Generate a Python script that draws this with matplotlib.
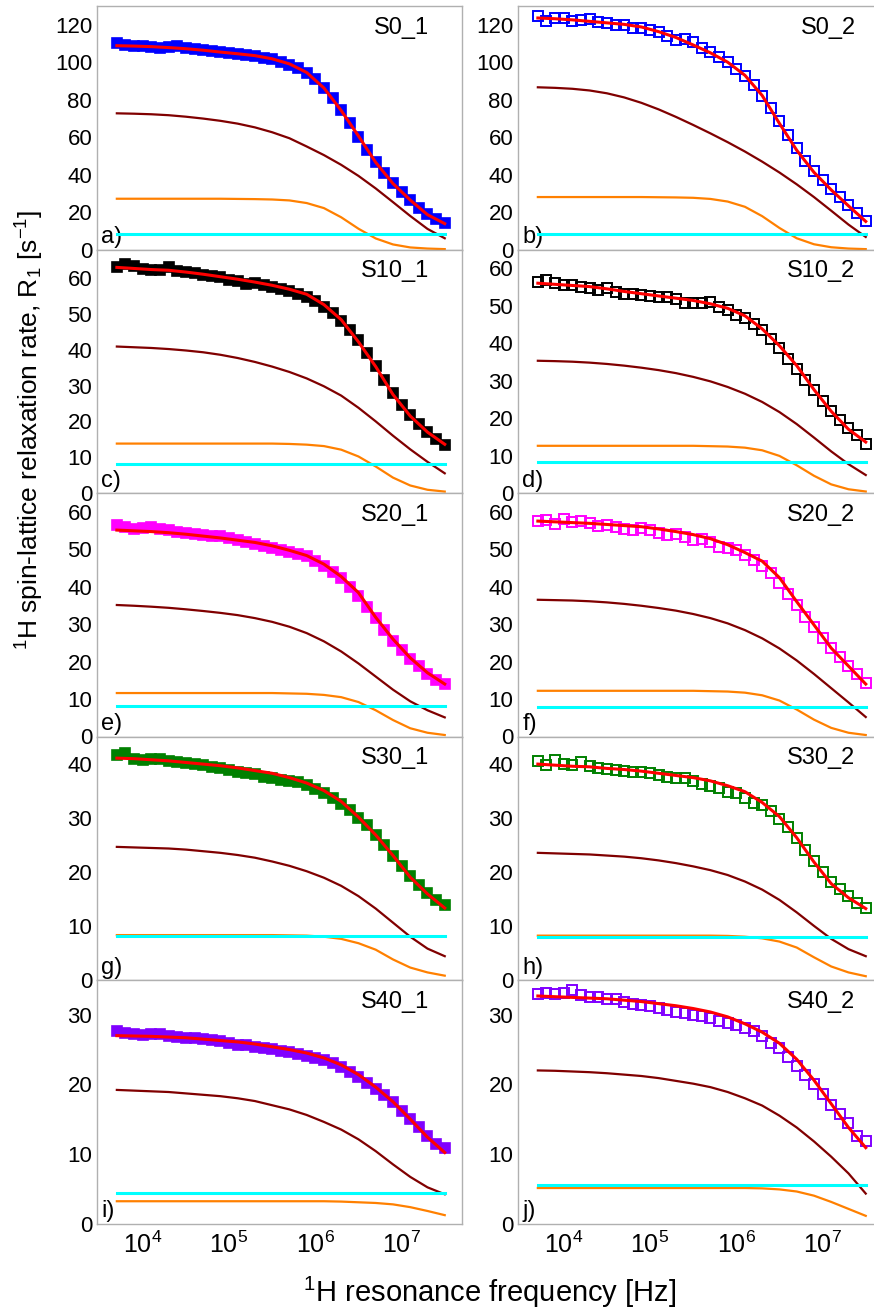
import numpy as np
import matplotlib
matplotlib.use('Agg')
import matplotlib.pyplot as plt

plt.rcParams['font.family'] = 'Liberation Sans'
plt.rcParams['mathtext.fontset'] = 'custom'
plt.rcParams['mathtext.rm'] = 'Liberation Sans'
plt.rcParams['mathtext.it'] = 'Liberation Sans:italic'

# log10 of the frequency [Hz]: measured points and fitted curves
log_f_data = [3.7, 3.8, 3.9, 4.0, 4.1, 4.2, 4.3, 4.4, 4.5, 4.6, 4.7, 4.8, 4.9,
              5.0, 5.1, 5.2, 5.3, 5.4, 5.5, 5.6, 5.7, 5.8, 5.9, 6.0, 6.1, 6.2,
              6.3, 6.4, 6.5, 6.6, 6.7, 6.8, 6.9, 7.0, 7.1, 7.2, 7.3, 7.4, 7.5]
log_f_fit = [3.7, 3.9, 4.1, 4.3, 4.5, 4.7, 4.9, 5.1, 5.3, 5.5, 5.7, 5.9, 6.1,
             6.3, 6.5, 6.7, 6.9, 7.1, 7.3, 7.5]

# S0_1
s0_1_data = [110.0, 109.4, 108.8, 108.6, 108.0, 107.8, 107.9, 108.8, 107.4, 106.9, 106.5, 106.2, 105.6,
             105.0, 104.4, 103.9, 103.2, 102.3, 101.5, 100.3, 98.5, 96.8, 94.0, 90.8, 86.0, 81.0,
             74.5, 67.8, 60.2, 53.2, 46.6, 40.6, 35.5, 30.8, 26.5, 22.3, 19.2, 16.4, 14.4]
s0_1_total = [108.8, 108.6, 108.3, 107.8, 107.2, 106.4, 105.4, 104.5, 103.5, 101.8, 99.1, 94.5, 86.2,
              74.2, 60.6, 46.5, 35.2, 26.4, 18.6, 13.8]
s0_1_slow = [72.7, 72.5, 72.2, 71.7, 70.9, 69.9, 68.7, 67.2, 65.2, 62.6, 59.4, 55.0, 50.4,
             45.2, 39.3, 32.6, 25.3, 17.9, 11.0, 6.0]
s0_1_fast = [27.1, 27.1, 27.1, 27.1, 27.1, 27.1, 27.1, 27.0, 26.9, 26.7, 26.2, 24.8, 22.1,
             17.2, 11.1, 5.9, 2.7, 1.1, 0.5, 0.2]
s0_1_const = 8.4

# S0_2
s0_2_data = [124.5, 122.0, 123.8, 123.4, 122.1, 122.6, 122.9, 121.3, 121.0, 120.0, 119.6, 118.5, 118.0,
             117.3, 116.2, 114.0, 112.0, 112.6, 110.8, 107.8, 105.4, 103.0, 100.3, 96.4, 92.8, 87.6,
             82.0, 75.8, 68.6, 61.0, 54.0, 47.4, 42.0, 37.0, 32.4, 28.0, 24.0, 19.6, 15.2]
s0_2_total = [123.6, 123.2, 122.6, 121.8, 121.0, 120.2, 118.8, 116.3, 113.2, 109.2, 105.0, 100.0, 93.0,
              82.2, 67.3, 53.0, 41.2, 31.8, 23.3, 15.0]
s0_2_slow = [86.6, 86.3, 85.8, 84.9, 83.4, 81.2, 78.3, 74.8, 70.8, 66.5, 62.0, 57.3, 52.3,
             46.9, 41.1, 34.8, 28.0, 20.7, 13.3, 6.7]
s0_2_fast = [28.0, 28.0, 28.0, 28.0, 28.0, 28.0, 28.0, 27.9, 27.8, 27.6, 27.0, 25.6, 22.8,
             17.8, 11.5, 6.0, 2.8, 1.2, 0.5, 0.2]
s0_2_const = 8.4

# S10_1
s10_1_data = [63.2, 64.0, 63.5, 62.6, 62.3, 62.4, 63.2, 62.0, 61.6, 61.3, 60.9, 60.5, 60.2,
              59.6, 59.2, 58.5, 58.6, 58.0, 57.5, 57.0, 56.4, 55.5, 54.6, 53.5, 52.0, 50.3,
              48.0, 45.6, 42.6, 39.0, 35.6, 31.6, 28.0, 24.6, 21.8, 19.3, 17.0, 15.0, 13.5]
s10_1_total = [63.0, 62.7, 62.4, 62.2, 61.7, 61.1, 60.4, 59.7, 58.9, 58.0, 56.9, 55.5, 52.6,
               48.4, 42.2, 35.3, 27.5, 21.5, 17.0, 13.6]
s10_1_slow = [40.9, 40.7, 40.5, 40.2, 39.8, 39.3, 38.6, 37.7, 36.6, 35.3, 33.8, 32.0, 29.8,
              27.2, 23.8, 20.0, 16.0, 12.2, 8.7, 5.5]
s10_1_fast = [13.8, 13.8, 13.8, 13.8, 13.8, 13.8, 13.8, 13.8, 13.8, 13.8, 13.7, 13.5, 13.1,
              12.1, 10.2, 7.4, 4.3, 2.1, 0.9, 0.4]
s10_1_const = 8.2

# S10_2
s10_2_data = [56.4, 56.8, 56.0, 55.6, 55.4, 55.0, 54.8, 54.2, 54.6, 53.6, 53.2, 53.0, 52.8,
              52.6, 52.4, 52.2, 51.8, 50.8, 50.6, 50.7, 50.9, 49.6, 48.8, 47.5, 46.8, 45.2,
              43.4, 41.0, 38.6, 35.8, 33.0, 30.2, 27.4, 24.6, 22.0, 19.6, 17.4, 15.4, 13.2]
s10_2_total = [56.0, 55.7, 55.4, 55.1, 54.5, 53.8, 53.2, 52.6, 52.0, 51.4, 50.5, 49.3, 47.3,
               43.8, 39.3, 34.0, 27.6, 21.8, 17.0, 13.6]
s10_2_slow = [35.3, 35.2, 35.05, 34.8, 34.45, 34.0, 33.45, 32.8, 32.0, 31.0, 29.8, 28.3, 26.5,
              24.3, 21.6, 18.4, 14.8, 11.1, 7.7, 4.8]
s10_2_fast = [12.6, 12.6, 12.6, 12.6, 12.6, 12.6, 12.6, 12.6, 12.6, 12.6, 12.5, 12.4, 12.1,
              11.4, 9.9, 7.4, 4.6, 2.3, 1.0, 0.4]
s10_2_const = 8.2

# S20_1
s20_1_data = [56.4, 55.8, 55.4, 55.6, 55.8, 55.5, 55.0, 54.5, 54.2, 54.0, 53.7, 53.5, 53.4,
              53.0, 52.4, 52.0, 51.4, 50.8, 50.4, 49.8, 49.3, 48.8, 48.2, 46.8, 45.5, 44.0,
              42.2, 40.0, 37.5, 34.6, 31.6, 28.4, 25.6, 23.0, 20.8, 18.8, 16.8, 15.2, 14.0]
s20_1_total = [55.1, 54.9, 54.7, 54.4, 54.0, 53.5, 53.0, 52.4, 51.8, 50.9, 49.7, 48.3, 46.0,
               42.7, 38.4, 31.8, 26.0, 21.0, 17.0, 14.0]
s20_1_slow = [35.1, 34.9, 34.65, 34.35, 33.95, 33.5, 33.0, 32.4, 31.6, 30.6, 29.3, 27.6, 25.4,
              22.7, 19.5, 16.0, 12.5, 9.4, 7.0, 5.1]
s20_1_fast = [11.6, 11.6, 11.6, 11.6, 11.6, 11.6, 11.6, 11.6, 11.6, 11.6, 11.5, 11.4, 11.1,
              10.5, 9.2, 7.0, 4.4, 2.2, 1.0, 0.4]
s20_1_const = 8.25

# S20_2
s20_2_data = [57.6, 57.7, 56.8, 58.0, 57.3, 57.4, 57.0, 56.2, 56.4, 55.8, 55.3, 55.0, 55.6,
              55.1, 54.3, 53.8, 54.0, 53.2, 52.4, 52.6, 51.8, 50.6, 50.4, 49.8, 48.4, 47.0,
              45.6, 43.6, 41.0, 38.0, 35.0, 32.0, 29.2, 26.4, 23.6, 21.2, 18.8, 16.6, 14.4]
s20_2_total = [57.5, 57.3, 57.1, 56.9, 56.6, 56.3, 56.0, 55.4, 54.7, 53.9, 52.8, 51.2, 49.1,
               46.8, 42.4, 36.0, 29.8, 23.6, 18.8, 14.0]
s20_2_slow = [36.5, 36.4, 36.3, 36.1, 35.8, 35.4, 34.9, 34.3, 33.6, 32.7, 31.6, 30.2, 28.4,
              26.2, 23.5, 20.3, 16.7, 12.9, 9.1, 5.2]
s20_2_fast = [12.2, 12.2, 12.2, 12.2, 12.2, 12.2, 12.2, 12.2, 12.2, 12.2, 12.1, 12.0, 11.7,
              11.0, 9.6, 7.2, 4.5, 2.3, 1.0, 0.4]
s20_2_const = 8.0

# S30_1
s30_1_data = [41.6, 42.0, 40.8, 40.7, 40.9, 40.8, 40.5, 40.3, 40.1, 39.9, 39.7, 39.4, 39.1,
              38.8, 38.5, 38.2, 38.0, 37.6, 37.4, 37.0, 36.8, 36.6, 36.0, 35.3, 34.5, 33.6,
              32.5, 31.4, 30.0, 28.6, 26.8, 25.0, 23.0, 21.0, 19.2, 17.6, 16.0, 14.8, 13.8]
s30_1_total = [41.0, 40.9, 40.7, 40.5, 40.2, 39.9, 39.6, 39.2, 38.7, 38.2, 37.4, 36.4, 35.0,
               33.0, 30.1, 26.8, 23.0, 19.0, 15.9, 13.3]
s30_1_slow = [24.6, 24.5, 24.4, 24.3, 24.1, 23.8, 23.5, 23.1, 22.6, 21.9, 21.1, 20.1, 18.9,
              17.4, 15.5, 13.2, 10.6, 8.0, 5.8, 4.4]
s30_1_fast = [8.3, 8.3, 8.3, 8.3, 8.3, 8.3, 8.3, 8.3, 8.3, 8.3, 8.25, 8.2, 8.0,
              7.6, 6.8, 5.6, 3.8, 2.3, 1.4, 0.8]
s30_1_const = 8.1

# S30_2
s30_2_data = [40.4, 39.8, 40.6, 40.0, 39.8, 40.2, 39.5, 39.2, 39.0, 38.8, 38.6, 38.4, 38.5,
              38.2, 37.8, 37.6, 37.4, 37.3, 36.8, 36.3, 35.8, 35.4, 34.8, 34.6, 33.7, 32.8,
              32.4, 31.2, 29.8, 28.2, 26.2, 24.0, 22.0, 20.0, 18.2, 16.8, 15.5, 14.2, 13.3]
s30_2_total = [39.9, 39.7, 39.5, 39.4, 39.1, 38.9, 38.6, 38.2, 37.8, 37.4, 36.8, 35.9, 34.8,
               32.8, 30.2, 26.3, 21.8, 17.8, 15.2, 13.2]
s30_2_slow = [23.5, 23.4, 23.3, 23.2, 23.0, 22.8, 22.5, 22.1, 21.6, 21.0, 20.3, 19.4, 18.2,
              16.7, 14.8, 12.5, 10.0, 7.6, 5.7, 4.4]
s30_2_fast = [8.2, 8.2, 8.2, 8.2, 8.2, 8.2, 8.2, 8.2, 8.2, 8.2, 8.2, 8.15, 8.0,
              7.7, 7.1, 6.0, 4.2, 2.5, 1.4, 0.7]
s30_2_const = 8.0

# S40_1
s40_1_data = [27.6, 27.4, 27.2, 27.1, 27.3, 27.2, 27.0, 26.8, 26.6, 26.6, 26.5, 26.4, 26.2,
              25.9, 25.7, 25.6, 25.4, 25.2, 25.1, 24.8, 24.6, 24.4, 24.1, 23.8, 23.5, 23.0,
              22.5, 21.8, 21.0, 20.2, 19.3, 18.4, 17.4, 16.2, 15.0, 13.8, 12.6, 11.4, 10.8]
s40_1_total = [27.0, 26.95, 26.9, 26.8, 26.7, 26.5, 26.3, 26.1, 25.8, 25.4, 25.0, 24.5, 23.8,
               22.8, 21.4, 19.6, 17.5, 15.0, 12.4, 10.2]
s40_1_slow = [19.2, 19.1, 19.0, 18.9, 18.7, 18.5, 18.3, 18.0, 17.6, 17.0, 16.4, 15.6, 14.6,
              13.5, 12.1, 10.4, 8.5, 6.7, 5.2, 4.2]
s40_1_fast = [3.2, 3.2, 3.2, 3.2, 3.2, 3.2, 3.2, 3.2, 3.2, 3.2, 3.2, 3.2, 3.2,
              3.15, 3.05, 2.95, 2.75, 2.35, 1.8, 1.2]
s40_1_const = 4.4

# S40_2
s40_2_data = [33.0, 33.1, 33.0, 33.2, 33.6, 32.8, 32.5, 32.6, 32.2, 32.3, 31.9, 31.6, 31.4,
              31.2, 31.0, 30.7, 30.4, 30.2, 30.0, 29.8, 29.5, 29.1, 28.8, 28.5, 28.1, 27.6,
              26.9, 26.0, 25.2, 24.0, 22.6, 21.4, 20.0, 18.6, 17.0, 15.8, 14.4, 12.6, 11.9]
s40_2_total = [32.7, 32.6, 32.5, 32.4, 32.3, 32.1, 31.9, 31.6, 31.3, 30.9, 30.4, 29.7, 28.7,
               27.5, 25.9, 23.6, 20.6, 17.2, 13.8, 10.9]
s40_2_slow = [22.0, 21.95, 21.85, 21.75, 21.6, 21.4, 21.2, 20.9, 20.5, 20.1, 19.6, 18.9, 18.0,
              16.95, 15.5, 13.8, 11.8, 9.6, 7.2, 4.3]
s40_2_fast = [5.1, 5.1, 5.1, 5.1, 5.1, 5.1, 5.1, 5.1, 5.1, 5.1, 5.1, 5.1, 5.1,
              5.05, 4.9, 4.6, 4.0, 3.1, 2.1, 1.1]
s40_2_const = 5.5

names = ['S0_1', 'S0_2', 'S10_1', 'S10_2', 'S20_1', 'S20_2', 'S30_1', 'S30_2', 'S40_1', 'S40_2']
letters = ['a)', 'b)', 'c)', 'd)', 'e)', 'f)', 'g)', 'h)', 'i)', 'j)']
data = [s0_1_data, s0_2_data, s10_1_data, s10_2_data, s20_1_data, s20_2_data,
        s30_1_data, s30_2_data, s40_1_data, s40_2_data]
total = [s0_1_total, s0_2_total, s10_1_total, s10_2_total, s20_1_total, s20_2_total,
         s30_1_total, s30_2_total, s40_1_total, s40_2_total]
slow = [s0_1_slow, s0_2_slow, s10_1_slow, s10_2_slow, s20_1_slow, s20_2_slow,
        s30_1_slow, s30_2_slow, s40_1_slow, s40_2_slow]
fast = [s0_1_fast, s0_2_fast, s10_1_fast, s10_2_fast, s20_1_fast, s20_2_fast,
        s30_1_fast, s30_2_fast, s40_1_fast, s40_2_fast]
const = [s0_1_const, s0_2_const, s10_1_const, s10_2_const, s20_1_const, s20_2_const,
         s30_1_const, s30_2_const, s40_1_const, s40_2_const]
row_colors = ['#0000ff', '#000000', '#ff00ff', '#008000', '#8000ff']
ymax = [130, 130, 68, 65, 65, 65, 45, 45, 35, 35]
ystep = [20, 20, 10, 10, 10, 10, 10, 10, 10, 10]
ytop = [120, 120, 60, 60, 60, 60, 40, 40, 30, 30]

f_data = 10 ** np.array(log_f_data)
f_fit = 10 ** np.array(log_f_fit)

W, H = 874, 1310
fig = plt.figure(figsize=(W / 100, H / 100), dpi=100)
left_px = [97, 518]
top_px = [6, 249.5, 493, 736.5, 980]
w_px, h_px = 365, 243.5

for k in range(10):
    row, col = k // 2, k % 2
    ax = fig.add_axes([left_px[col] / W, 1 - (top_px[row] + h_px) / H, w_px / W, h_px / H])
    c = row_colors[row]
    if col == 0:
        ax.plot(f_data, data[k], 's', color=c, ms=7.2, mew=1.2, zorder=2)
    else:
        ax.plot(f_data, data[k], 's', mfc='none', mec=c, ms=7.5, mew=1.4, zorder=2)
    ax.plot(f_fit, slow[k], color='#800000', lw=1.6, zorder=3)
    ax.plot(f_fit, fast[k], color='#ff8000', lw=1.6, zorder=3)
    ax.plot([f_data[0], f_data[-1]], [const[k], const[k]], color='#00ffff', lw=2.2, zorder=4)
    ax.plot(f_fit, total[k], color='#ff0000', lw=2.2, zorder=5)

    ax.set_xscale('log')
    ax.set_xlim(10 ** 3.47, 10 ** 7.70)
    ax.set_ylim(0, ymax[k])
    ax.set_yticks(np.arange(0, ytop[k] + 1, ystep[k]))
    ax.tick_params(axis='y', length=0, pad=3.5, labelsize=16)
    if row == 4:
        ax.set_xticks([1e4, 1e5, 1e6, 1e7])
        ax.set_xticklabels([r'$\mathregular{10^{%d}}$' % e for e in [4, 5, 6, 7]])
        ax.tick_params(axis='x', length=0, pad=6, labelsize=18)
    else:
        ax.set_xticks([])
    ax.minorticks_off()
    for sp in ax.spines.values():
        sp.set_color('#b0b0b0')
        sp.set_linewidth(1.0)

    tx = 0.91 if col == 0 else 0.925
    ax.text(tx, 0.91, names[k], transform=ax.transAxes, ha='right', va='center', fontsize=17)
    ax.text(0.012, 0.05, letters[k], transform=ax.transAxes, ha='left', va='center', fontsize=17)

fig.text(30 / W, 1 - 430 / H,
         r'$\mathregular{^{1}}$H spin-lattice relaxation rate, R$\mathregular{_{1}}$ [s$\mathregular{^{-1}}$]',
         rotation=90, ha='center', va='center', fontsize=19)
fig.text(490 / W, 1 - 1302 / H, r'$\mathregular{^{1}}$H resonance frequency [Hz]',
         ha='center', va='baseline', fontsize=21)

fig.savefig('out.png', dpi=100, facecolor='white')
